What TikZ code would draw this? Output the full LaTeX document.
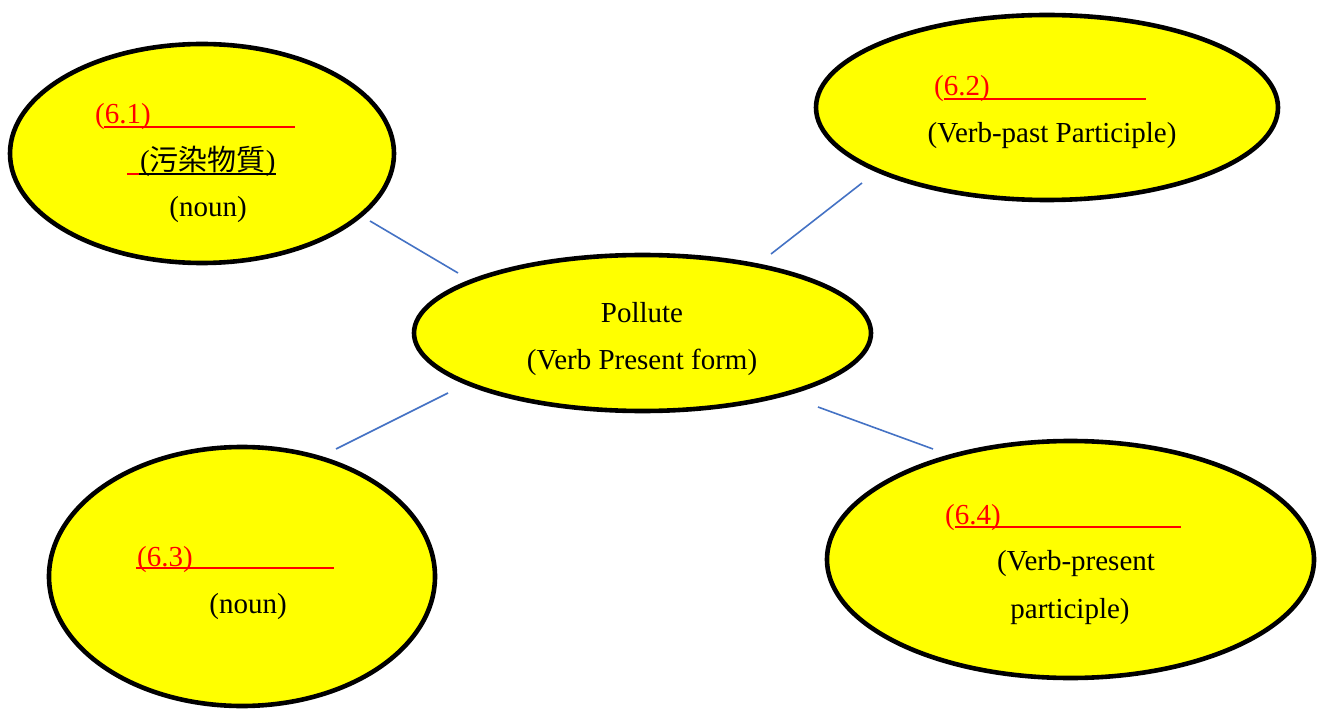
\documentclass[tikz,border=0pt]{standalone}
\usepackage{fontspec}
\setmainfont{Liberation Serif}
\newfontfamily\cjk{Noto Sans CJK TC}
\usepackage{xcolor}
\usepackage{tikz}
\usetikzlibrary{shapes.geometric}
\definecolor{bubblefill}{RGB}{255,255,0}
\definecolor{answer}{RGB}{255,0,0}
\definecolor{linkblue}{RGB}{68,114,196}
\tikzset{
  bubble/.style={ellipse,draw=black,line width=4.6pt,fill=bubblefill,inner sep=0pt},
  word/.style={inner sep=0pt,anchor=base,font=\fontsize{29}{34}\selectfont},
  num/.style={word,anchor=base west,text=answer},
  blank/.style={draw=answer,line width=1.6pt},
  link/.style={draw=linkblue,line width=1.6pt}
}

\begin{document}
\begin{tikzpicture}[x=1pt,y=-1pt]
      \useasboundingbox (0,0) rectangle (1325,711);
      % bubbles
      \node[bubble,minimum width=384pt,minimum height=219pt] (noun1) at (202,153.5) {};
      \node[bubble,minimum width=462pt,minimum height=185pt] (pastp) at (1047,107.5) {};
      \node[bubble,minimum width=457pt,minimum height=156pt] (root) at (642.5,333) {};
      \node[bubble,minimum width=386pt,minimum height=259pt] (noun2) at (242,576.5) {};
      \node[bubble,minimum width=487pt,minimum height=237pt] (presp) at (1070.5,559.5) {};
      % links (free ends)
      \coordinate (l1a) at (370,221); \coordinate (l1b) at (458,273);
      \coordinate (l2a) at (771,254); \coordinate (l2b) at (862,183);
      \coordinate (l3a) at (336,449); \coordinate (l3b) at (448,393);
      \coordinate (l4a) at (818,407); \coordinate (l4b) at (933,449);
      \draw[link] (l1a) -- (l1b);
      \draw[link] (l2a) -- (l2b);
      \draw[link] (l3a) -- (l3b);
      \draw[link] (l4a) -- (l4b);
      % centre
      \node[word] (rootw) at (642,323) {Pollute};
      \node[word] (roott) at (642,369) {(Verb Present form)};
      % 6.1
      \node[num] (q1) at (95,124) {(6.1)};
      \draw[blank] ([xshift=9pt,yshift=-3pt]q1.base west) -- ++(191,0);
      \node[word,anchor=base west] (q1zh) at (140,171) {({\cjk 污染物質})};
      \draw[blank] ([xshift=-13pt,yshift=-3pt]q1zh.base west) -- ++(12,0);
      \draw[line width=1.6pt] ([xshift=-1pt,yshift=-3pt]q1zh.base west) -- ([yshift=-3pt]q1zh.base east);
      \node[word] (q1t) at (208,217) {(noun)};
      % 6.2
      \node[num] (q2) at (934,96) {(6.2)};
      \draw[blank] ([xshift=10pt,yshift=-3pt]q2.base west) -- ++(202,0);
      \node[word] (q2t) at (1052,143) {(Verb-past Participle)};
      % 6.3
      \node[num] (q3) at (137,566) {(6.3)};
      \draw[blank] ([xshift=-1pt,yshift=-2pt]q3.base west) -- ++(198,0);
      \node[word] (q3t) at (248,613) {(noun)};
      % 6.4
      \node[num] (q4) at (945,524) {(6.4)};
      \draw[blank] ([xshift=10pt,yshift=-3pt]q4.base west) -- ++(226,0);
      \node[word] (q4t) at (1076,570) {(Verb-present};
      \node[word] (q4u) at (1070,618) {participle)};
    \end{tikzpicture}
\end{document}
